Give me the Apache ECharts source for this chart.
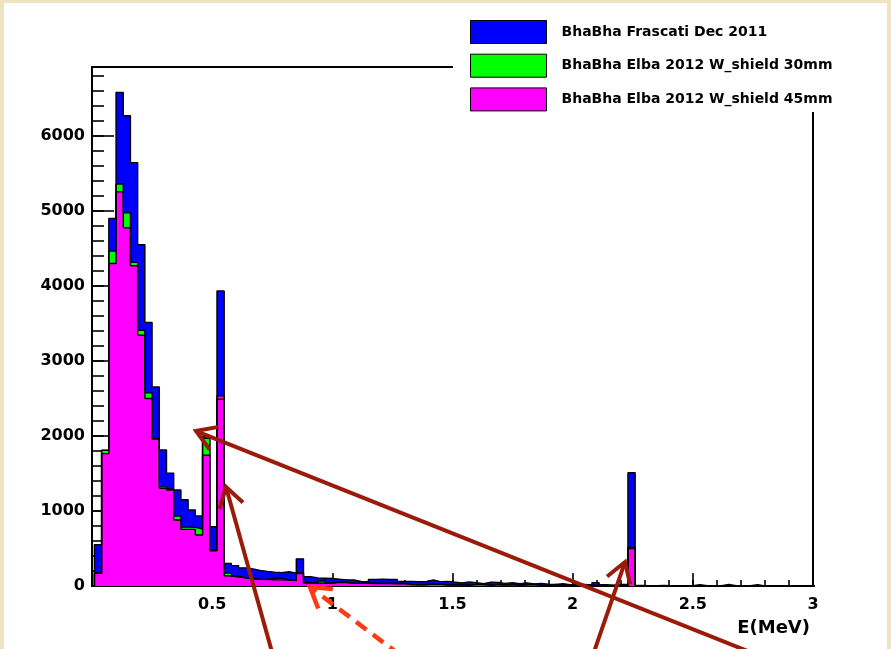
<!DOCTYPE html>
<html><head><meta charset="utf-8">
<script src="https://cdn.jsdelivr.net/npm/echarts@6/dist/echarts.min.js"></script>
<style>
html,body{margin:0;padding:0;width:891px;height:649px;overflow:hidden;background:#efe4c1;}
#paper{position:absolute;left:4px;top:3px;width:883px;height:646px;background:#fff;}
#chart{position:absolute;left:0;top:0;width:891px;height:649px;}
</style></head><body>
<div id="paper"></div><div id="chart"></div>
<script>
// ---- data ----
const binStart = 0.01;
const binWidth = 0.03;
const seriesNames = ['BhaBha Frascati Dec 2011', 'BhaBha Elba 2012 W_shield 30mm', 'BhaBha Elba 2012 W_shield 45mm'];
const seriesColors = ['#0000ff', '#00ff00', '#ff00ff'];
const frascati = [
  550, 1810, 4900, 6580, 6270, 5645, 4550, 3515, 2655, 1815,
  1505, 1280, 1150, 1015, 935, 1970, 790, 3935, 300, 272,
  242, 228, 208, 195, 185, 178, 190, 170, 362, 125,
  108, 104, 100, 90, 82, 80, 60, 58, 88, 90,
  86, 88, 60, 62, 58, 56, 80, 58, 60, 52,
  40, 55, 45, 30, 52, 48, 35, 44, 30, 42,
  28, 35, 25, 20, 30, 18, 25, 22, 15, 45,
  18, 12, 20, 25, 1510, 8, 5, 4, 6, 3,
  5, 2, 4, 18, 4, 2, 5, 20, 3, 2,
  4, 18, 2, 3, 5, 2, 3, 4, 2, 1
];
const elba30 = [
  175, 1808, 4465, 5360, 4975, 4315, 3410, 2575, 1960, 1322,
  1280, 932, 785, 782, 760, 1990, 470, 2490, 172, 130,
  110, 95, 90, 86, 106, 104, 78, 72, 165, 48,
  35, 66, 38, 48, 45, 36, 35, 36, 34, 34,
  33, 30, 34, 18, 16, 16, 26, 24, 12, 18,
  12, 10, 22, 18, 8, 20, 10, 18, 8, 16,
  20, 8, 6, 16, 8, 5, 6, 4, 8, 5,
  3, 5, 2, 6, 500, 2, 1, 1, 2, 1,
  1, 0, 1, 2, 1, 0, 1, 2, 1, 0,
  1, 2, 0, 1, 1, 0, 1, 1, 0, 0
];
const elba45 = [
  170, 1765, 4300, 5255, 4775, 4270, 3345, 2500, 1968, 1302,
  1290, 880, 755, 755, 680, 1745, 480, 2535, 135, 118,
  108, 98, 92, 88, 84, 82, 80, 75, 175, 40,
  40, 38, 40, 52, 50, 40, 38, 40, 38, 38,
  37, 35, 38, 20, 18, 18, 30, 28, 15, 20,
  15, 12, 25, 22, 10, 25, 12, 22, 10, 20,
  25, 10, 8, 20, 10, 6, 8, 5, 10, 6,
  4, 6, 3, 8, 515, 3, 2, 1, 3, 1,
  2, 0, 1, 3, 1, 0, 2, 3, 1, 0,
  1, 3, 0, 1, 2, 0, 1, 1, 0, 0
];
const xTickLabels = ['0.5', '1', '1.5', '2', '2.5', '3'];
const yTickLabels = ['0', '1000', '2000', '3000', '4000', '5000', '6000'];
const xTitle = 'E(MeV)';

// ---- build ----
function stepPoints(vals) {
  const pts = [[binStart, 0]];
  for (let k = 0; k < vals.length; k++) pts.push([+(binStart + k * binWidth).toFixed(4), vals[k]]);
  const end = +(binStart + vals.length * binWidth).toFixed(4);
  pts.push([end, vals[vals.length - 1]]);
  pts.push([end, 0]);
  return pts;
}
function histSeries(i, vals) {
  return {
    name: seriesNames[i], type: 'line', step: 'end', symbol: 'none', showSymbol: false,
    data: stepPoints(vals), xAxisIndex: 0, yAxisIndex: 0, clip: true,
    lineStyle: { color: '#000', width: 1.4 },
    itemStyle: { color: seriesColors[i] },
    areaStyle: { color: seriesColors[i], opacity: 1 },
    animation: false, silent: true
  };
}

const FONT = 'DejaVu Sans';
const DARK = '#9b1b0b';
const DASH = '#ff3b14';
function arrow(tip, tail, color, dashed) {
  const dx = tail[0] - tip[0], dy = tail[1] - tip[1];
  const len = Math.hypot(dx, dy), ux = dx / len, uy = dy / len;
  const a = 32 * Math.PI / 180, L = 23;
  const w1 = [tip[0] + L * (ux * Math.cos(a) - uy * Math.sin(a)), tip[1] + L * (ux * Math.sin(a) + uy * Math.cos(a))];
  const w2 = [tip[0] + L * (ux * Math.cos(-a) - uy * Math.sin(-a)), tip[1] + L * (ux * Math.sin(-a) + uy * Math.cos(-a))];
  return [
    { type: 'line', z: 100, shape: { x1: tail[0], y1: tail[1], x2: tip[0] + ux * 1.5, y2: tip[1] + uy * 1.5 },
      style: { stroke: color, lineWidth: dashed ? 4.5 : 4, lineDash: dashed ? [13, 8] : null } },
    { type: 'polyline', z: 100, shape: { points: [w1, tip, w2] },
      style: { stroke: color, lineWidth: dashed ? 4.5 : 4, fill: null, lineJoin: 'miter' } }
  ];
}

const chart = echarts.init(document.getElementById('chart'), null, { renderer: 'canvas' });
const option = {
  backgroundColor: 'transparent',
  animation: false,
  grid: { left: 92, right: 78, top: 67, bottom: 63, show: true, borderColor: '#000', borderWidth: 2, backgroundColor: 'transparent' },
  legend: {
    orient: 'vertical', left: 465, top: 15, itemWidth: 76, itemHeight: 23, itemGap: 9.7,
    icon: 'rect', selectedMode: false, z: 60, data: seriesNames,
    itemStyle: { borderColor: '#000', borderWidth: 1 },
    textStyle: { fontFamily: FONT, fontWeight: 'bold', fontSize: 14, color: '#000', padding: [0, 0, 0, 10] }
  },
  xAxis: [
    { type: 'value', position: 'bottom', min: 0, max: 3, interval: 0.5,
      axisLine: { show: true, lineStyle: { color: '#000', width: 2 } },
      axisTick: { show: true, inside: true, length: 13, lineStyle: { color: '#000', width: 1.6 } },
      axisLabel: { margin: 11, fontFamily: FONT, fontWeight: 'bold', fontSize: 16, color: '#000',
        formatter: v => { const s = String(+v.toFixed(2)); return xTickLabels.indexOf(s) >= 0 ? s : ''; } },
      splitLine: { show: false },
      name: xTitle, nameLocation: 'end', nameGap: -3,
      nameTextStyle: { fontFamily: FONT, fontWeight: 'bold', fontSize: 18, color: '#000', align: 'right', verticalAlign: 'top', padding: [33, 0, 0, 0] } },
    { type: 'value', position: 'bottom', min: 0, max: 3, interval: 0.1,
      axisLine: { show: false }, axisLabel: { show: false }, splitLine: { show: false },
      axisTick: { show: true, inside: true, length: 6, lineStyle: { color: '#000', width: 1.6 } } }
  ],
  yAxis: [
    { type: 'value', position: 'left', min: 0, max: 6920, interval: 1000,
      axisLine: { show: true, lineStyle: { color: '#000', width: 2 } },
      axisTick: { show: true, inside: true, length: 22, lineStyle: { color: '#000', width: 1.6 } },
      axisLabel: { margin: 7, fontFamily: FONT, fontWeight: 'bold', fontSize: 16, color: '#000',
        formatter: v => { const s = String(Math.round(v)); return yTickLabels.indexOf(s) >= 0 ? s : ''; } },
      splitLine: { show: false } },
    { type: 'value', position: 'left', min: 0, max: 6920, interval: 200,
      axisLine: { show: false }, axisLabel: { show: false }, splitLine: { show: false },
      axisTick: { show: true, inside: true, length: 12, lineStyle: { color: '#000', width: 1.6 } } }
  ],
  series: [histSeries(0, frascati), histSeries(1, elba30), histSeries(2, elba45)],
  graphic: { elements: [
    { type: 'rect', z: 50, shape: { x: 453, y: 10, width: 430, height: 102 }, style: { fill: '#fff' } },
    ...arrow([196, 431], [750, 652], DARK, false),
    ...arrow([226, 487], [272, 652], DARK, false),
    ...arrow([625, 562], [594, 652], DARK, false),
    ...arrow([310, 587], [400, 655], DASH, true)
  ] }
};
chart.setOption(option);
</script>
</body></html>
